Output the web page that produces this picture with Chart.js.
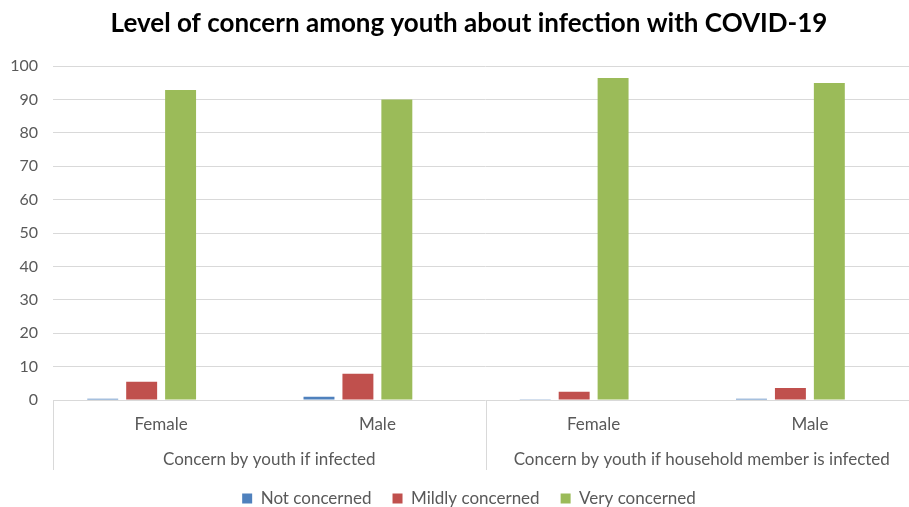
<!DOCTYPE html>
<html>
<head>
<meta charset="utf-8">
<script src="https://cdn.jsdelivr.net/npm/chart.js@4.4.0/dist/chart.umd.min.js"></script>
<style>
html,body{margin:0;padding:0;background:#fff;overflow:hidden;}
#wrap{width:938px;height:507px;position:relative;}
</style>
</head>
<body>
<div id="wrap"><canvas id="c" width="938" height="507"></canvas></div>
<script>
const categories = ['Female', 'Male', 'Female', 'Male'];
const groups = ['Concern by youth if infected', 'Concern by youth if household member is infected'];
const notConcerned = [0.4, 1.0, 0.2, 0.4];
const mildlyConcerned = [5.5, 7.9, 2.5, 3.6];
const veryConcerned = [92.9, 90.0, 96.5, 95.0];
const blankSeries = [null, null, null, null]; // empty 4th series slot present in the original chart
const yTicks = [0, 10, 20, 30, 40, 50, 60, 70, 80, 90, 100];

const FONT = 'Lato, "Open Sans", sans-serif';
const GREY = '#595959';

const groupPlugin = {
  id: 'groupPlugin',
  afterDraw(chart) {
    const ctx = chart.ctx;
    const x = chart.scales.x;
    const area = chart.chartArea;
    const bottom = area.bottom + 70;
    ctx.save();
    ctx.strokeStyle = '#d9d9d9';
    ctx.lineWidth = 1;
    const bounds = [-0.5, 1.5, 3.5];
    bounds.forEach(b => {
      const px = Math.round(x.getPixelForValue(b)) + 0.5;
      ctx.beginPath();
      ctx.moveTo(px, area.bottom);
      ctx.lineTo(px, bottom);
      ctx.stroke();
    });
    ctx.fillStyle = GREY;
    ctx.font = '17px ' + FONT;
    ctx.textAlign = 'center';
    ctx.textBaseline = 'middle';
    groups.forEach((g, i) => {
      const cx = (x.getPixelForValue(i * 2 - 0.5) + x.getPixelForValue(i * 2 + 1.5)) / 2;
      ctx.fillText(g, cx, area.bottom + 60);
    });
    ctx.restore();
  }
};

new Chart(document.getElementById('c'), {
  type: 'bar',
  data: {
    labels: categories,
    datasets: [
      { label: 'Not concerned', data: notConcerned, backgroundColor: '#4F81BD' },
      { label: 'Mildly concerned', data: mildlyConcerned, backgroundColor: '#C0504D' },
      { label: 'Very concerned', data: veryConcerned, backgroundColor: '#9BBB59' },
      { label: '', data: blankSeries, backgroundColor: 'rgba(0,0,0,0)' }
    ]
  },
  options: {
    responsive: false,
    animation: false,
    layout: { padding: { left: 0, right: 0, top: 0, bottom: -10 } },
    datasets: { bar: { categoryPercentage: 0.72, barPercentage: 0.795 } },
    plugins: {
      title: {
        display: true,
        text: 'Level of concern among youth about infection with COVID-19',
        color: '#000',
        font: { family: FONT, size: 26, weight: 'bold' },
        padding: { top: 8, bottom: 27 }
      },
      legend: {
        position: 'bottom',
        labels: {
          color: GREY,
          font: { family: FONT, size: 17 },
          boxWidth: 10, boxHeight: 10, padding: 21,
          filter: item => item.text !== ''
        }
      },
      tooltip: { enabled: false }
    },
    scales: {
      x: {
        grid: { display: false, drawTicks: false },
        border: { display: false },
        ticks: { color: GREY, font: { family: FONT, size: 17 }, padding: 14 },
        afterFit(s) { s.height = 69; }
      },
      y: {
        min: 0, max: 100,
        afterBuildTicks(s) { s.ticks = yTicks.map(v => ({ value: v })); },
        grid: { color: '#d9d9d9', drawTicks: false },
        border: { display: false },
        ticks: { color: GREY, font: { family: FONT, size: 16 }, padding: 15 },
        afterFit(s) { s.width = 53; }
      },
      yRight: {
        position: 'right',
        min: 0, max: 100,
        grid: { display: false, drawTicks: false },
        border: { display: false },
        ticks: { display: false },
        afterFit(s) { s.width = 20; }
      }
    }
  },
  plugins: [groupPlugin]
});
</script>
</body>
</html>
